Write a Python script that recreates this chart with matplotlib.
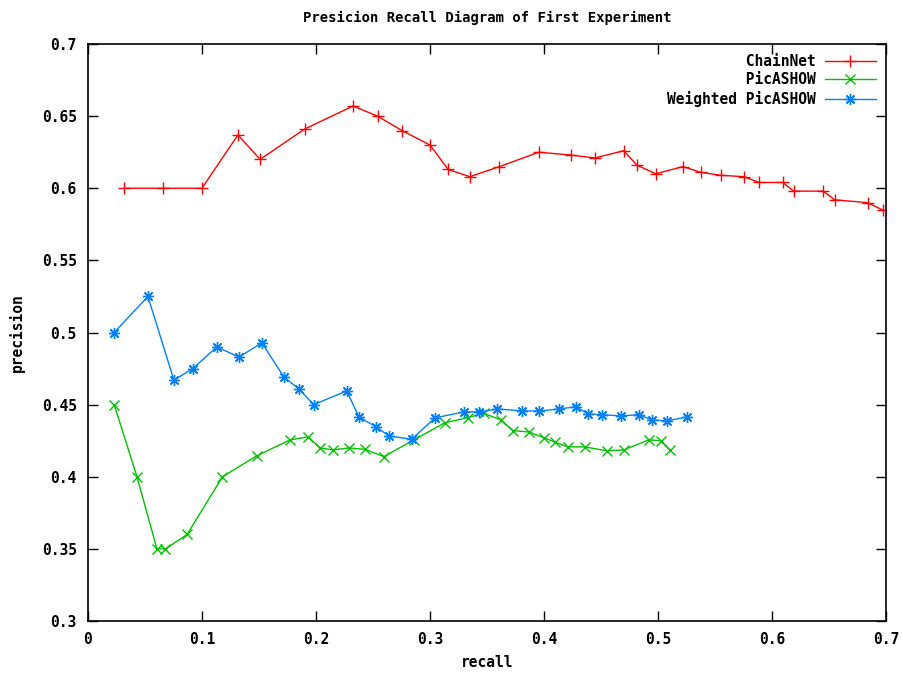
import matplotlib.pyplot as plt
from matplotlib.ticker import MultipleLocator, FormatStrFormatter

# values
chainnet_recall = [0.0316, 0.066, 0.100, 0.1316, 0.151, 0.190, 0.2325, 0.254, 0.2754, 0.300,
                   0.316, 0.335, 0.361, 0.3956, 0.4237, 0.4447, 0.470, 0.4816, 0.498, 0.522,
                   0.5377, 0.555, 0.5754, 0.589, 0.6096, 0.619, 0.645, 0.655, 0.684, 0.697]
chainnet_precision = [0.600, 0.600, 0.600, 0.637, 0.620, 0.641, 0.657, 0.650, 0.640, 0.630,
                      0.613, 0.608, 0.615, 0.625, 0.623, 0.621, 0.626, 0.616, 0.610, 0.615,
                      0.611, 0.609, 0.608, 0.604, 0.604, 0.598, 0.598, 0.592, 0.590, 0.585]

picashow_recall = [0.023, 0.043, 0.0605, 0.068, 0.087, 0.118, 0.148, 0.177, 0.193, 0.2035,
                   0.215, 0.229, 0.243, 0.2596, 0.286, 0.313, 0.3333, 0.347, 0.3623, 0.3728,
                   0.387, 0.400, 0.4096, 0.421, 0.436, 0.455, 0.470, 0.492, 0.5026, 0.5105]
picashow_precision = [0.450, 0.400, 0.350, 0.350, 0.360, 0.400, 0.4145, 0.4255, 0.4277, 0.420,
                      0.4186, 0.420, 0.419, 0.414, 0.4256, 0.4374, 0.441, 0.444, 0.4394, 0.432,
                      0.431, 0.427, 0.424, 0.4207, 0.4207, 0.418, 0.4186, 0.4256, 0.425, 0.4186]

weighted_recall = [0.023, 0.0526, 0.0754, 0.092, 0.113, 0.1325, 0.1526, 0.172, 0.185, 0.198,
                   0.227, 0.2377, 0.2526, 0.264, 0.284, 0.3044, 0.3298, 0.343, 0.3588, 0.3807,
                   0.3956, 0.413, 0.428, 0.4386, 0.451, 0.4675, 0.4833, 0.4947, 0.508, 0.5254]
weighted_precision = [0.500, 0.525, 0.467, 0.475, 0.490, 0.483, 0.4928, 0.469, 0.461, 0.450,
                      0.4595, 0.4415, 0.4346, 0.4283, 0.426, 0.4408, 0.445, 0.445, 0.447, 0.4457,
                      0.4455, 0.447, 0.4485, 0.4435, 0.443, 0.4422, 0.443, 0.4394, 0.4387, 0.4415]

labels = ["ChainNet", "PicASHOW", "Weighted PicASHOW"]
width = max(len(s) for s in labels)

plt.rcParams['font.family'] = ['DejaVu Sans Mono']
plt.rcParams['font.weight'] = 'bold'
plt.rcParams['font.size'] = 10

fig = plt.figure(figsize=(9.04, 6.82), dpi=100)
ax = fig.add_axes([0.0973, 0.0894, 0.8827, 0.8461])

ax.plot(chainnet_recall, chainnet_precision, color='#ff0000', lw=1, marker='+',
        ms=9, mew=1, label=labels[0].rjust(width))
ax.plot(picashow_recall, picashow_precision, color='#00c000', lw=1, marker='x',
        ms=7, mew=1, label=labels[1].rjust(width))
ax.plot(weighted_recall, weighted_precision, color='#0080ff', lw=1, marker=(8, 2, 0),
        ms=8, mew=1, label=labels[2].rjust(width))

ax.set_xlim(0, 0.7)
ax.set_ylim(0.3, 0.7)
ax.xaxis.set_major_locator(MultipleLocator(0.1))
ax.yaxis.set_major_locator(MultipleLocator(0.05))
ax.xaxis.set_major_formatter(FormatStrFormatter('%g'))
ax.yaxis.set_major_formatter(FormatStrFormatter('%g'))
ax.tick_params(direction='in', length=7, width=1, top=True, right=True, labelsize=10.5, pad=8)
for sp in ax.spines.values():
    sp.set_linewidth(1.2)

ax.set_xlabel('recall', fontweight='bold', fontsize=10.5, labelpad=6)
ax.set_ylabel('precision', fontweight='bold', fontsize=10.5, labelpad=12)
ax.set_title('Presicion Recall Diagram of First Experiment', fontweight='bold', fontsize=10, pad=16)

ax.legend(loc='upper right', frameon=False, markerfirst=False, handlelength=3.5,
          borderaxespad=0.3, labelspacing=0.22, handletextpad=0.6, fontsize=10.5)

plt.savefig('out.png', dpi=100)
